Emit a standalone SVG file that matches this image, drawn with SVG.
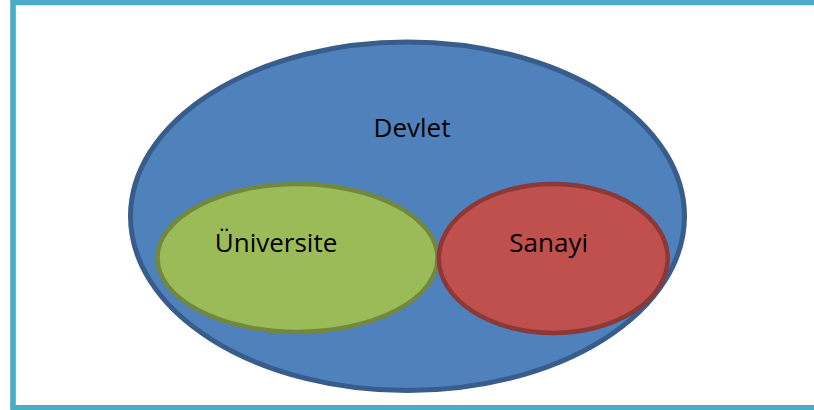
<svg xmlns="http://www.w3.org/2000/svg" width="814" height="410" viewBox="0 0 814 410">
<style>
.lbl{font-family:"Open Sans","Liberation Sans",sans-serif;font-size:26px;fill:#000;text-anchor:middle}
</style>
<rect x="0" y="0" width="814" height="410" fill="#ffffff"/>
<rect x="13" y="2.5" width="820" height="405.3" fill="none" stroke="#4bacc6" stroke-width="5.6"/>
<g id="devlet">
<ellipse cx="407.5" cy="216.3" rx="277" ry="174.3" fill="#4f81bd" stroke="#385d8a" stroke-width="5"/>
<text class="lbl" x="412" y="136.7">Devlet</text>
</g>
<g id="universite">
<ellipse cx="297.5" cy="258" rx="140" ry="74" fill="#9bbb59" stroke="#71893f" stroke-width="4.5"/>
<text class="lbl" x="276" y="251.7">Üniversite</text>
</g>
<g id="sanayi">
<ellipse cx="553.3" cy="258.5" rx="114.5" ry="74.5" fill="#c0504d" stroke="#8c3836" stroke-width="4.5"/>
<text class="lbl" x="548.7" y="251.7">Sanayi</text>
</g>
<g id="connectors"></g>
</svg>
